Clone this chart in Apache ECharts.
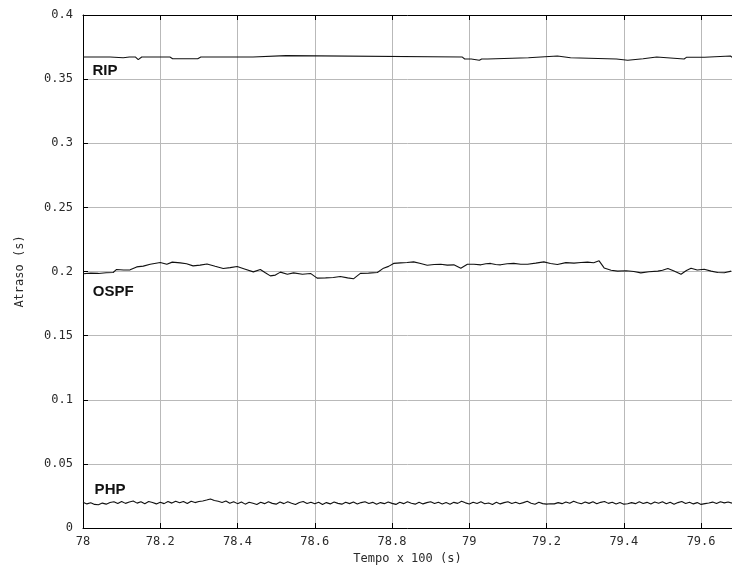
<!DOCTYPE html>
<html>
<head>
<meta charset="utf-8">
<script src="https://cdn.jsdelivr.net/npm/echarts@6/dist/echarts.min.js"></script>
<style>
  html, body { margin: 0; padding: 0; background: #fff; }
  #chart { width: 732px; height: 567px; }
</style>
</head>
<body>
<div id="chart"></div>
<script>
// Delay per routing protocol over time (time in units of 100 s)

// RIP: nearly constant, small steps
const ripT = [78.000, 78.070, 78.075, 78.104, 78.120, 78.136, 78.143, 78.152, 78.225, 78.232,
  78.297, 78.305, 78.440, 78.445, 78.525, 78.530, 78.982, 78.988, 79.005, 79.010,
  79.026, 79.032, 79.047, 79.052, 79.153, 79.158, 79.228, 79.233, 79.262, 79.267,
  79.381, 79.386, 79.410, 79.415, 79.450, 79.455, 79.485, 79.490, 79.556, 79.562,
  79.609, 79.614, 79.676, 79.680];
const ripV = [0.3672, 0.3672, 0.3667, 0.3667, 0.3672, 0.3672, 0.3652, 0.3672, 0.3672, 0.3659,
  0.3659, 0.3672, 0.3672, 0.3683, 0.3683, 0.3672, 0.3672, 0.3657, 0.3657, 0.3647,
  0.3647, 0.3657, 0.3657, 0.3667, 0.3667, 0.3680, 0.3680, 0.3667, 0.3667, 0.3657,
  0.3657, 0.3647, 0.3647, 0.3659, 0.3659, 0.3672, 0.3672, 0.3657, 0.3657, 0.3670,
  0.3670, 0.3680, 0.3680, 0.3670];

// OSPF: around 0.2 with drifts
const ospfT = [78.000, 78.020, 78.040, 78.060, 78.078, 78.087, 78.105, 78.122, 78.139, 78.156,
  78.174, 78.200, 78.217, 78.231, 78.252, 78.268, 78.285, 78.303, 78.321, 78.342,
  78.363, 78.381, 78.399, 78.420, 78.441, 78.459, 78.472, 78.485, 78.498, 78.511,
  78.529, 78.545, 78.568, 78.589, 78.606, 78.628, 78.648, 78.666, 78.685, 78.700,
  78.718, 78.739, 78.762, 78.778, 78.791, 78.804, 78.822, 78.839, 78.856, 78.874,
  78.891, 78.909, 78.926, 78.943, 78.960, 78.978, 78.995, 79.012, 79.030, 79.043,
  79.055, 79.068, 79.081, 79.098, 79.115, 79.133, 79.151, 79.172, 79.193, 79.210,
  79.228, 79.250, 79.271, 79.289, 79.306, 79.322, 79.336, 79.349, 79.367, 79.384,
  79.406, 79.426, 79.444, 79.465, 79.488, 79.500, 79.514, 79.530, 79.548, 79.562,
  79.574, 79.590, 79.608, 79.626, 79.643, 79.660, 79.678];
const ospfV = [0.1983, 0.1987, 0.1985, 0.1990, 0.1992, 0.2016, 0.2012, 0.2013, 0.2036, 0.2042,
  0.2057, 0.2070, 0.2057, 0.2073, 0.2067, 0.2060, 0.2044, 0.2050, 0.2059, 0.2041,
  0.2024, 0.2030, 0.2039, 0.2018, 0.1997, 0.2016, 0.1990, 0.1966, 0.1972, 0.1995,
  0.1979, 0.1989, 0.1979, 0.1985, 0.1948, 0.1950, 0.1953, 0.1961, 0.1950, 0.1943,
  0.1985, 0.1987, 0.1992, 0.2026, 0.2040, 0.2063, 0.2067, 0.2070, 0.2075, 0.2062,
  0.2049, 0.2055, 0.2057, 0.2050, 0.2052, 0.2026, 0.2057, 0.2056, 0.2052, 0.2061,
  0.2063, 0.2055, 0.2052, 0.2060, 0.2063, 0.2056, 0.2057, 0.2065, 0.2075, 0.2062,
  0.2055, 0.2069, 0.2065, 0.2070, 0.2073, 0.2068, 0.2083, 0.2028, 0.2010, 0.2003,
  0.2006, 0.2000, 0.1989, 0.1998, 0.2003, 0.2010, 0.2024, 0.2003, 0.1979, 0.2008,
  0.2026, 0.2012, 0.2018, 0.2003, 0.1992, 0.1990, 0.2003];

// PHP: sampled every 0.01, starting at 78.00
const phpStart = 78.00;
const phpStep = 0.01;
const phpV = [
  0.0200, 0.0188, 0.0197, 0.0184, 0.0181, 0.0194, 0.0186, 0.0199, 0.0205, 0.0191,
  0.0207, 0.0192, 0.0203, 0.0210, 0.0194, 0.0205, 0.0189, 0.0206, 0.0199, 0.0188,
  0.0201, 0.0190, 0.0206, 0.0194, 0.0208, 0.0197, 0.0207, 0.0191, 0.0209, 0.0198,
  0.0206, 0.0211, 0.0218, 0.0226, 0.0214, 0.0208, 0.0199, 0.0210, 0.0193, 0.0205,
  0.0190, 0.0203, 0.0186, 0.0201, 0.0193, 0.0184, 0.0200, 0.0190, 0.0204, 0.0192,
  0.0186, 0.0202, 0.0190, 0.0205, 0.0193, 0.0183, 0.0199, 0.0206, 0.0191, 0.0201,
  0.0189, 0.0200, 0.0184, 0.0198, 0.0188, 0.0202, 0.0192, 0.0186, 0.0201, 0.0190,
  0.0202, 0.0187, 0.0198, 0.0205, 0.0191, 0.0200, 0.0185, 0.0198, 0.0190, 0.0203,
  0.0192, 0.0184, 0.0200, 0.0190, 0.0204, 0.0193, 0.0186, 0.0200, 0.0188, 0.0198,
  0.0205, 0.0191, 0.0201, 0.0187, 0.0198, 0.0186, 0.0200, 0.0192, 0.0208, 0.0196,
  0.0187, 0.0201, 0.0191, 0.0204, 0.0189, 0.0195, 0.0184, 0.0200, 0.0188, 0.0198,
  0.0205, 0.0191, 0.0201, 0.0189, 0.0198, 0.0208, 0.0193, 0.0185, 0.0200, 0.0190,
  0.0186, 0.0189, 0.0188, 0.0198, 0.0190, 0.0203, 0.0193, 0.0209, 0.0197, 0.0189,
  0.0203, 0.0192, 0.0205, 0.0189, 0.0200, 0.0207, 0.0192, 0.0201, 0.0187, 0.0198,
  0.0186, 0.0189, 0.0198, 0.0190, 0.0204, 0.0191, 0.0200, 0.0187, 0.0202, 0.0193,
  0.0205, 0.0189, 0.0200, 0.0185, 0.0198, 0.0206, 0.0191, 0.0201, 0.0188, 0.0198,
  0.0184, 0.0190, 0.0195, 0.0202, 0.0191, 0.0205, 0.0196, 0.0203, 0.0194];

const seriesNames = ['RIP', 'OSPF', 'PHP'];
// Where each series name is written, in data units
const nameAnchors = [[78.057, 0.3565], [78.078, 0.1839], [78.070, 0.0300]];

const xMin = 78, xMax = 79.68, xStep = 0.2;
const yMin = 0, yMax = 0.4, yStep = 0.05;

const pairs = (t, v) => t.map((x, i) => [x, v[i]]);
const phpData = phpV.map((v, i) => [+(phpStart + i * phpStep).toFixed(2), v]);

const monoFont = 'DejaVu Sans Mono';
const tickColor = '#2a2a2a';

function lineSeries(name, data, anchor) {
  return {
    name, type: 'line', data, xAxisIndex: 0, yAxisIndex: 0,
    showSymbol: false, symbol: 'none', animation: false, silent: true,
    lineStyle: { color: '#111', width: 1.1 },
    markPoint: {
      symbol: 'circle', symbolSize: 1, silent: true, animation: false,
      itemStyle: { color: 'rgba(0,0,0,0)' },
      label: {
        show: true, position: 'inside', formatter: name,
        fontFamily: 'Liberation Sans', fontWeight: 'bold', fontSize: 15, color: '#111'
      },
      data: [{ coord: anchor }]
    }
  };
}

const chart = echarts.init(document.getElementById('chart'), null, { renderer: 'canvas' });
chart.setOption({
  backgroundColor: '#fff',
  animation: false,
  grid: { left: 83, right: 0, top: 15, bottom: 39, containLabel: false, outerBoundsMode: 'none' },
  xAxis: [
    {
      type: 'value', position: 'bottom', min: xMin, max: xMax, interval: xStep,
      name: 'Tempo x 100 (s)', nameLocation: 'middle', nameGap: 25,
      nameTextStyle: { fontFamily: monoFont, fontSize: 12, color: tickColor },
      axisLine: { show: true, lineStyle: { color: '#000', width: 1 } },
      axisTick: { show: true, inside: true, length: 5, lineStyle: { color: '#000' } },
      axisLabel: { fontFamily: monoFont, fontSize: 12, color: tickColor, margin: 8, showMaxLabel: false },
      splitLine: { show: true, lineStyle: { color: '#b9b9b9', width: 1 } }
    },
    {
      type: 'value', position: 'top', min: xMin, max: xMax, interval: xStep,
      axisLine: { show: true, lineStyle: { color: '#000', width: 1 } },
      axisTick: { show: true, inside: true, length: 5, lineStyle: { color: '#000' } },
      axisLabel: { show: false },
      splitLine: { show: false }
    }
  ],
  yAxis: {
    type: 'value', min: yMin, max: yMax, interval: yStep,
    name: 'Atraso (s)', nameLocation: 'middle', nameGap: 57, nameRotate: 90,
    nameTextStyle: { fontFamily: monoFont, fontSize: 12, color: tickColor },
    axisLine: { show: true, lineStyle: { color: '#000', width: 1 } },
    axisTick: { show: true, inside: true, length: 5, lineStyle: { color: '#000' } },
    axisLabel: { fontFamily: monoFont, fontSize: 12, color: tickColor, margin: 10 },
    splitLine: { show: true, lineStyle: { color: '#b9b9b9', width: 1 } }
  },
  series: [
    lineSeries(seriesNames[0], pairs(ripT, ripV), nameAnchors[0]),
    lineSeries(seriesNames[1], pairs(ospfT, ospfV), nameAnchors[1]),
    lineSeries(seriesNames[2], phpData, nameAnchors[2])
  ]
});
</script>
</body>
</html>
